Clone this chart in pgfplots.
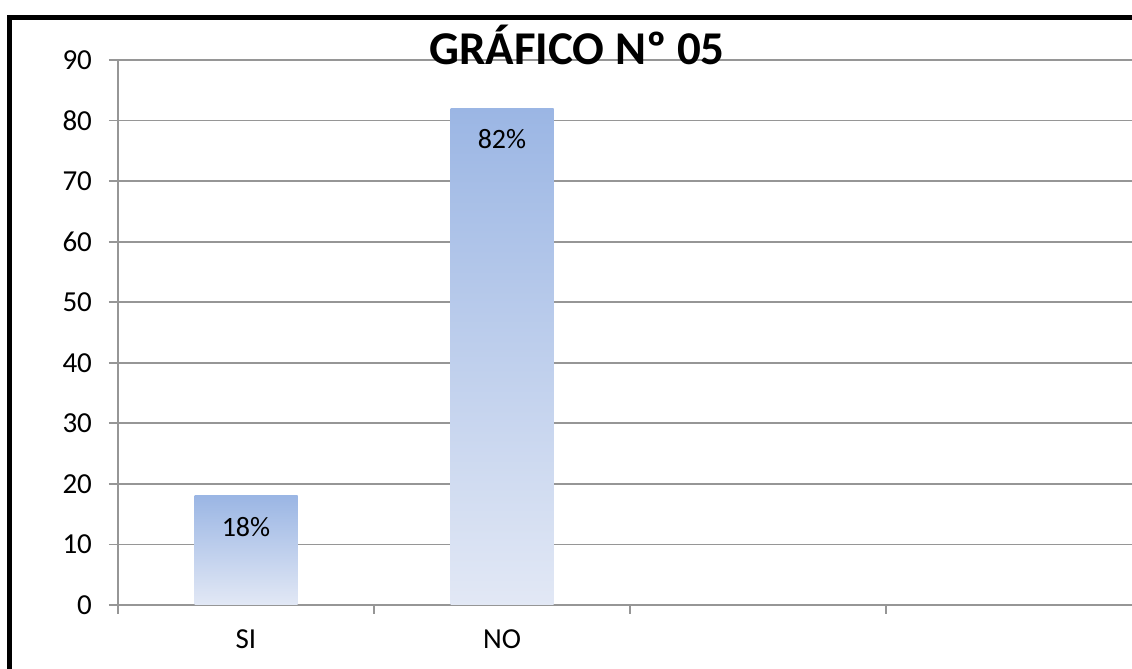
\documentclass[border=0pt]{standalone}
\usepackage{pgfplots}
\pgfplotsset{compat=1.18}
\usepackage{fontspec}
\setmainfont{Carlito}
\definecolor{gridgray}{RGB}{150,150,150}
\definecolor{bartop}{RGB}{155,182,228}
\definecolor{barbot}{RGB}{226,232,245}
\begin{document}
\begin{tikzpicture}
\useasboundingbox (0,0) rectangle (566pt,334.5pt);
\clip (0,0) rectangle (566pt,334.5pt);
\draw[line width=2.2pt] (4.75pt,-20pt) -- (4.75pt,325.75pt) -- (600pt,325.75pt);
\begin{axis}[
  at={(59pt,32pt)}, anchor=south west,
  scale only axis, width=512pt, height=272.5pt,
  xmin=-0.5, xmax=3.5, ymin=0, ymax=90,
  xtick={-0.5,0.5,1.5,2.5,3.5},
  x tick label as interval,
  xticklabels={SI,NO,{},{}},
  ytick={0,10,...,90},
  axis x line*=bottom, axis y line*=left,
  axis line style={gridgray, line width=0.9pt},
  tick align=outside, major tick length=4.5pt,
  tick style={gridgray, line width=0.9pt},
  ymajorgrids, grid style={gridgray, line width=0.9pt},
  /pgf/number format/assume math mode=true,
  tick label style={font=\fontsize{14.5}{17}\selectfont, text=black},
  yticklabel style={xshift=-5pt},
  xticklabel style={yshift=-4.5pt},
  clip=false,
  nodes near coords={\pgfmathprintnumber{\pgfplotspointmeta}\%},
  every node near coord/.append style={anchor=center, yshift=-15.5pt, font=\fontsize{14}{17}\selectfont, text=black},
]
\addplot[ybar, bar width=51.5pt, bar shift=0pt, draw=none, top color=bartop, bottom color=barbot] coordinates {(0,18)};
\addplot[ybar, bar width=51.5pt, bar shift=0pt, draw=none, top color=bartop, bottom color=barbot] coordinates {(1,82)};
\end{axis}
\node[font=\fontsize{23.5}{28}\selectfont\bfseries, anchor=base] at (288.5pt,302pt) {GRÁFICO Nº 05};
\end{tikzpicture}
\end{document}
